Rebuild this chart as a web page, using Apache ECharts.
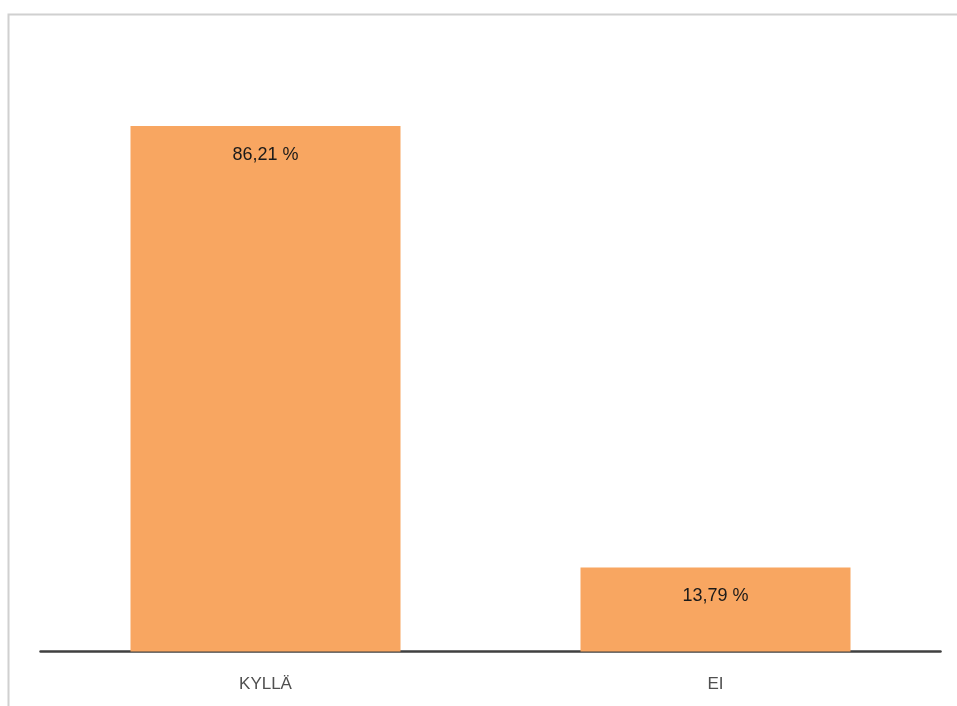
<!DOCTYPE html>
<html>
<head>
<meta charset="utf-8">
<script src="https://cdn.jsdelivr.net/npm/echarts@6/dist/echarts.min.js"></script>
<style>
  html, body { margin: 0; padding: 0; background: #ffffff; }
  #chart { width: 957px; height: 706px; }
</style>
</head>
<body>
<div id="chart"></div>
<script>
// Vastausten jakauma (prosentteina)
const categories = ['KYLLÄ', 'EI'];
const shares = [86.21, 13.79];

const chart = echarts.init(document.getElementById('chart'), null, { renderer: 'canvas' });

function fmt(v) {
  return v.toFixed(2).replace('.', ',') + ' %';
}

chart.setOption({
  animation: false,
  backgroundColor: '#ffffff',
  graphic: [{
    type: 'rect',
    shape: { x: 8.5, y: 14.5, width: 1000, height: 800 },
    style: { fill: 'none', stroke: '#d0d0d0', lineWidth: 2 },
    silent: true,
    z: -10
  }],
  grid: { left: 40.5, right: 16.5, top: 42, bottom: 54.5, containLabel: false },
  xAxis: {
    type: 'category',
    data: categories,
    axisLine: { lineStyle: { color: '#404040', width: 2.5 } },
    axisTick: { show: false },
    axisLabel: {
      color: '#505050',
      fontFamily: 'Liberation Sans',
      fontSize: 17,
      margin: 24
    }
  },
  yAxis: {
    type: 'value',
    min: 0,
    max: 100,
    show: false,
    splitLine: { show: false }
  },
  series: [{
    type: 'bar',
    data: shares,
    barWidth: '60%',
    itemStyle: { color: '#f8a661' },
    label: {
      show: true,
      position: 'insideTop',
      distance: 20,
      color: '#1a1a1a',
      fontFamily: 'Liberation Sans',
      fontSize: 18,
      formatter: p => fmt(p.value)
    }
  }]
});
</script>
</body>
</html>
